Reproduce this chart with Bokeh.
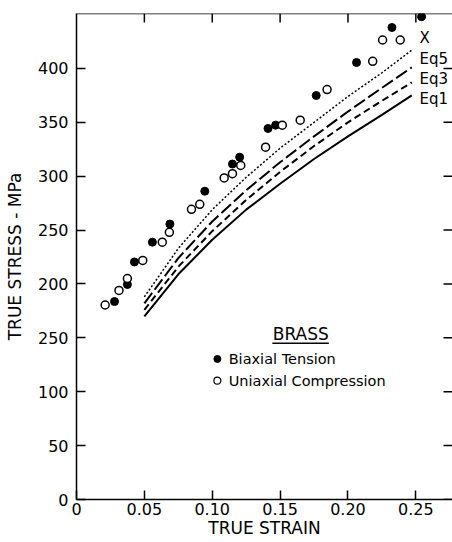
from bokeh.plotting import figure
from bokeh.models import LinearAxis, FixedTicker, Range1d, NumeralTickFormatter
from bokeh.core.properties import value
from bokeh.embed import file_html
from bokeh.resources import INLINE

# ---- data ----
biaxial_strain = [0.028, 0.0375, 0.0427, 0.0559, 0.0688, 0.0945, 0.1149, 0.1202,
                  0.1411, 0.1467, 0.1766, 0.2063, 0.2324, 0.2542]
biaxial_stress = [183.7, 199.5, 220.4, 238.8, 255.6, 286.1, 311.3, 317.7,
                  344.3, 347.4, 374.9, 405.5, 438.0, 448.0]

uniaxial_strain = [0.0211, 0.0313, 0.0375, 0.0488, 0.0632, 0.0684, 0.0847, 0.0908,
                   0.1088, 0.1149, 0.1210, 0.1393, 0.1516, 0.1648, 0.1846, 0.2182,
                   0.2255, 0.2385]
uniaxial_stress = [180.5, 194.0, 205.0, 221.9, 238.8, 247.9, 269.3, 273.9,
                   298.4, 302.4, 310.0, 326.9, 347.4, 352.0, 380.4, 406.6,
                   426.4, 426.4]

curve_strain = [0.05, 0.075, 0.10, 0.125, 0.15, 0.175, 0.20, 0.225, 0.247]
eq1_stress = [170, 209, 241, 269, 293, 316, 337, 357, 375]
eq3_stress = [176, 216, 249, 278, 304, 328, 350, 370, 387]
eq5_stress = [182, 224, 258, 287, 313, 337, 360, 382, 401]
x_stress = [188, 233, 269, 299, 326, 350, 374, 396, 417]

curve_labels = ["X", "Eq5", "Eq3", "Eq1"]
x_ticks = [0, 0.05, 0.10, 0.15, 0.20, 0.25]
y_ticks = [0, 50, 100, 150, 200, 250, 300, 350, 400]
y_tick_labels = ["0", "50", "100", "250", "200", "250", "300", "350", "400"]

FONT = "DejaVu Sans"
X0, X1 = 0.0, 0.277
Y0, Y1 = 0.0, 451.0

p = figure(width=452, height=542, output_backend="svg", toolbar_location=None,
           x_range=Range1d(X0, X1), y_range=Range1d(Y0, Y1),
           x_axis_location=None, y_axis_location=None,
           min_border_left=76, min_border_right=0, min_border_top=13,
           min_border_bottom=43)
p.outline_line_color = None
p.grid.visible = False
p.background_fill_color = "white"
p.border_fill_color = "white"

xa = LinearAxis()
ya = LinearAxis()
p.add_layout(xa, "below")
p.add_layout(ya, "left")
xa.ticker = FixedTicker(ticks=x_ticks)
ya.ticker = FixedTicker(ticks=y_ticks)

for ax in [xa, ya]:
    ax.major_tick_in = 9
    ax.major_tick_out = 0
    ax.minor_tick_in = 0
    ax.minor_tick_out = 0
    ax.axis_line_color = "black"
    ax.axis_line_width = 1.5
    ax.major_tick_line_color = "black"
    ax.major_tick_line_width = 1.5
    ax.major_label_text_font = FONT
    ax.major_label_text_font_size = "16px"
    ax.major_label_text_color = "black"
    ax.axis_label_text_font = FONT
    ax.axis_label_text_font_style = "normal"
    ax.axis_label_text_font_size = "17px"
    ax.axis_label_text_color = "black"

xa.formatter = NumeralTickFormatter(format="0.00")
xa.major_label_overrides = {0: "0"}
xa.major_label_standoff = 3
xa.axis_label = "TRUE STRAIN"
xa.axis_label_standoff = 0

ya.major_label_overrides = {t: s for t, s in zip(y_ticks, y_tick_labels)}
ya.major_label_standoff = 8
ya.axis_label = "TRUE STRESS - MPa"
ya.axis_label_standoff = 10

# top frame line with inward ticks, right-side inward ticks (frame edge cut off)
tick_dy = 9 / 1.0774      # 9 px in stress units
tick_dx = 9 / 1357.0      # 9 px in strain units
p.segment(x0=[X0], y0=[Y1], x1=[X1], y1=[Y1], line_color="black", line_width=1.5)
p.segment(x0=x_ticks[1:], y0=[Y1] * (len(x_ticks) - 1), x1=x_ticks[1:],
          y1=[Y1 - tick_dy] * (len(x_ticks) - 1), line_color="black", line_width=1.5)
p.segment(x0=[X1] * len(y_ticks), y0=y_ticks, x1=[X1 - tick_dx] * len(y_ticks),
          y1=y_ticks, line_color="black", line_width=1.5)

# model curves
p.line(curve_strain, eq1_stress, line_color="black", line_width=2)
p.line(curve_strain, eq3_stress, line_color="black", line_width=2, line_dash="7 4")
p.line(curve_strain, eq5_stress, line_color="black", line_width=2, line_dash="13 4")
p.line(curve_strain, x_stress, line_color="black", line_width=1.5, line_dash="2 2")

# data points
p.scatter(biaxial_strain, biaxial_stress, marker="circle", size=8,
          fill_color="black", line_color="black")
p.scatter(uniaxial_strain, uniaxial_stress, marker="circle", size=8,
          fill_color="white", line_color="black", line_width=1.5)

# curve labels
p.text(x=[0.2527] * 4, y=[428, 409, 390, 372], text=curve_labels,
       text_font=value(FONT), text_font_size="15px", text_color="black",
       text_baseline="middle", text_align="left")

# legend
p.text(x=[0.1652], y=[154], text=["BRASS"], text_font=value(FONT),
       text_font_size="17px", text_color="black", text_baseline="middle",
       text_align="center")
p.segment(x0=[0.1443], y0=[145], x1=[0.1859], y1=[145],
          line_color="black", line_width=1.5)
p.scatter([0.1038], [130.4], marker="circle", size=7,
          fill_color="black", line_color="black")
p.scatter([0.1038], [110.3], marker="circle", size=7,
          fill_color="white", line_color="black", line_width=1.2)
p.text(x=[0.1121, 0.1121], y=[130.4, 110.3],
       text=["Biaxial Tension", "Uniaxial Compression"],
       text_font=value(FONT), text_font_size="14.5px", text_color="black",
       text_baseline="middle", text_align="left")

open("out.html", "w").write(file_html(p, INLINE))
